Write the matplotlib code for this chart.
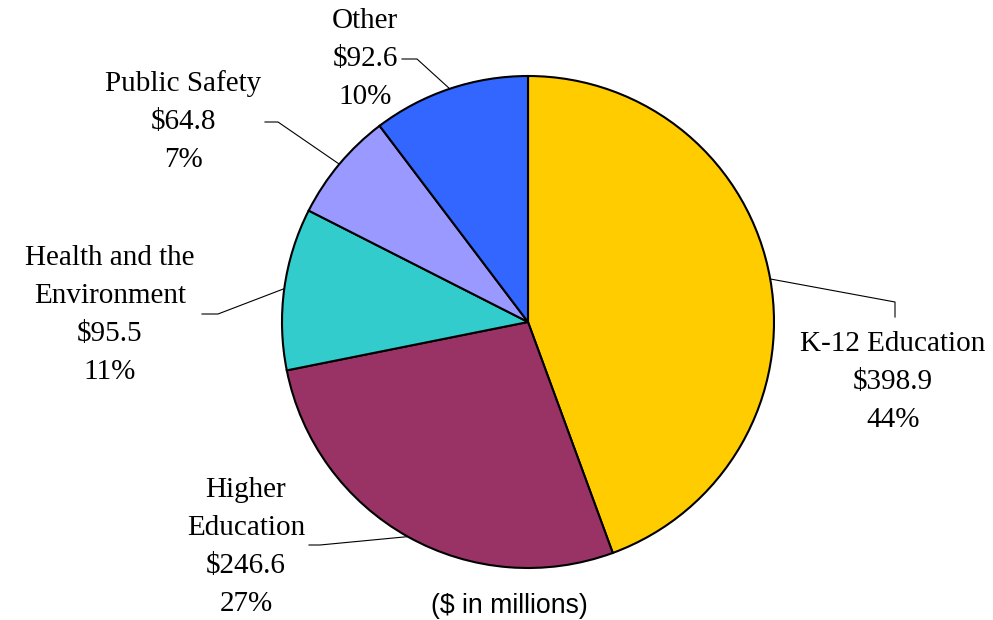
import matplotlib
matplotlib.use("Agg")
import matplotlib.pyplot as plt
import numpy as np

categories = ["K-12 Education", "Higher\nEducation", "Health and the\nEnvironment", "Public Safety", "Other"]
values = [398.9, 246.6, 95.5, 64.8, 92.6]
percents = ["44%", "27%", "11%", "7%", "10%"]
colors = ["#FFCC00", "#993366", "#33CCCC", "#9999FF", "#3366FF"]

W, H = 993, 620
fig = plt.figure(figsize=(W / 100, H / 100), dpi=100)
ax = fig.add_axes([0, 0, 1, 1])
ax.set_xlim(0, W)
ax.set_ylim(0, H)
ax.set_aspect("equal")
ax.axis("off")

cx, cy, r = 528, H - 322, 246
wedges, _ = ax.pie(values, colors=colors, startangle=90, counterclock=False,
                   center=(cx, cy), radius=r,
                   wedgeprops=dict(edgecolor="black", linewidth=1.5))
ax.set_xlim(0, W)
ax.set_ylim(0, H)

def Y(y):
    return H - y

font = dict(family="Liberation Serif", fontsize=21, color="black")

# label layout: center x, first line y (image px), line gap, leader (elbow, end) in image px
layout = [
    dict(x=893, y=344, gap=38, leader=[(895, 302), (895, 317)]),
    dict(x=246, y=490, gap=38, leader=[(320, 545), (309, 545)]),
    dict(x=110, y=258, gap=38, leader=[(218, 314), (202, 314)]),
    dict(x=183, y=84, gap=38, leader=[(278, 122), (265, 122)]),
    dict(x=365, y=21, gap=38, leader=[(417, 59), (402, 59)]),
]

total = sum(values)
start = 90.0
for i, (cat, val, pct) in enumerate(zip(categories, values, percents)):
    sweep = 360.0 * val / total
    mid = np.deg2rad(start - sweep / 2)
    start -= sweep
    ex, ey = cx + r * np.cos(mid), cy + r * np.sin(mid)
    L = layout[i]
    pts = [(ex, ey)] + [(px, Y(py)) for px, py in L["leader"]]
    ax.plot([p[0] for p in pts], [p[1] for p in pts], color="black", lw=0.8)
    lines = cat.split("\n") + [f"${val:.1f}", pct]
    for k, line in enumerate(lines):
        ax.text(L["x"], Y(L["y"] + k * L["gap"]), line, ha="center", va="center", **font)

ax.text(509, Y(606), "($ in millions)", ha="center", va="center",
        family="Liberation Sans", fontsize=19.2, color="black")

fig.savefig("out.png", dpi=100)
